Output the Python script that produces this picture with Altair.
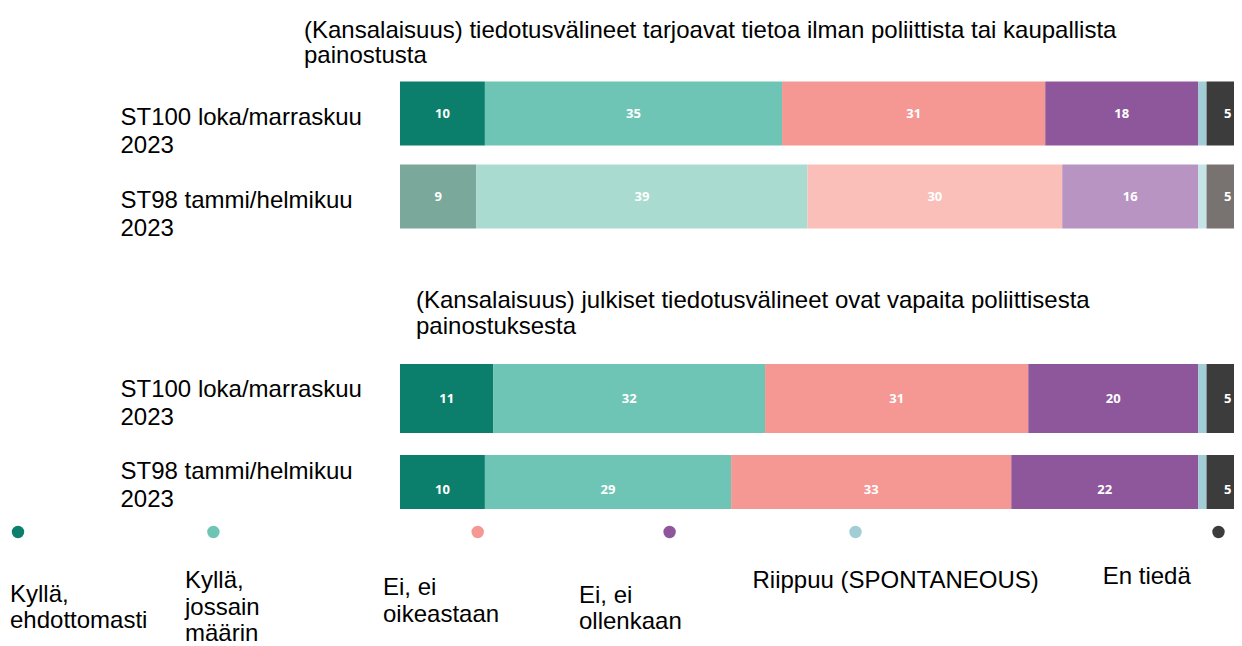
import altair as alt
import pandas as pd

# ---------------- data ----------------
categories = ["Kyllä, ehdottomasti", "Kyllä, jossain määrin", "Ei, ei oikeastaan",
              "Ei, ei ollenkaan", "Riippuu (SPONTANEOUS)", "En tiedä"]
legend_labels = ["Kyllä,\nehdottomasti", "Kyllä,\njossain\nmäärin", "Ei, ei\noikeastaan",
                 "Ei, ei\nollenkaan", "Riippuu (SPONTANEOUS)", "En tiedä"]
wave_labels = ["ST100 loka/marraskuu\n2023", "ST98 tammi/helmikuu\n2023"]

title_1 = ["(Kansalaisuus) tiedotusvälineet tarjoavat tietoa ilman poliittista tai kaupallista",
           "painostusta"]
title_2 = ["(Kansalaisuus) julkiset tiedotusvälineet ovat vapaita poliittisesta",
           "painostuksesta"]

q1_st100 = [10, 35, 31, 18, 1, 5]
q1_st98 = [9, 39, 30, 16, 1, 5]
q2_st100 = [11, 32, 31, 20, 1, 5]
q2_st98 = [10, 29, 33, 22, 1, 5]

# ---------------- styles ----------------
colors = ["#0b7f6b", "#6ec5b5", "#f59793", "#8f579b", "#a3cdd5", "#3c3c3c"]
faded_colors = ["#7aa89a", "#a9dbd0", "#f9bfb8", "#b794c2", "#c6e3e6", "#787270"]
FONT = "Liberation Sans, Arial, sans-serif"
FS = 24
W = 1226

keys = categories + [c + " (aiempi)" for c in categories]
color_scale = alt.Scale(domain=keys, range=colors + faded_colors)


def frame(rows):
    recs = []
    for label, vals, faded in rows:
        for i, (c, v) in enumerate(zip(categories, vals)):
            recs.append(dict(row=label, cat=c, order=i, value=v,
                             key=c + (" (aiempi)" if faded else ""),
                             show=c != "Riippuu (SPONTANEOUS)"))
    return pd.DataFrame(recs)


def panel(df, title, title_dx, title_lh, title_offset, height, y_range,
          pad_inner, pad_outer, label_offset):
    base = alt.Chart(df).transform_stack(
        stack="value", groupby=["row"], sort=[alt.SortField("order")], as_=["x0", "x1"]
    ).transform_calculate(mid="(datum.x0 + datum.x1) / 2")
    xscale = alt.Scale(domain=[0, 100], range=[392, 1241])
    yenc = alt.Y(
        "row:N", sort=wave_labels, title=None,
        scale=alt.Scale(range=y_range, paddingInner=pad_inner, paddingOuter=pad_outer),
        axis=alt.Axis(domain=False, ticks=False, grid=False, labelAlign="left",
                      labelBaseline="alphabetic", labelPadding=-112, labelFont=FONT,
                      labelFontSize=FS, labelColor="#000000", labelLineHeight=28,
                      labelExpr="split(datum.label, '\\n')", labelOffset=label_offset,
                      labelLimit=500),
    )
    bars = base.mark_bar(clip=True).encode(
        x=alt.X("x0:Q", scale=xscale, axis=None),
        x2="x1:Q",
        y=yenc,
        color=alt.Color("key:N", scale=color_scale, legend=None),
    )
    text = base.transform_filter("datum.show").mark_text(
        color="white", font="Open Sans", fontWeight="bold", fontSize=13, baseline="middle"
    ).encode(
        x=alt.X("mid:Q", scale=xscale, axis=None),
        y=yenc,
        text=alt.Text("value:Q", format="d"),
    )
    return alt.layer(bars, text).properties(
        width=W, height=height,
        title=alt.TitleParams(text=title, anchor="start", frame="group", dx=title_dx,
                              font=FONT, fontSize=FS, fontWeight="normal", color="#000000",
                              lineHeight=title_lh, baseline="alphabetic", offset=title_offset),
    )


p1 = panel(frame([(wave_labels[0], q1_st100, False), (wave_labels[1], q1_st98, True)]),
           title_1, 296, 25, -14.5, 280.5, [0, 166], 0.229, 0.1145, 11)
p2 = panel(frame([(wave_labels[0], q2_st100, False), (wave_labels[1], q2_st98, False)]),
           title_2, 408, 26, -5, 156, [0, 182], 0.242, 0.121,
           {"condition": {"test": "indexof(datum.value, 'ST98') == 0", "value": -11},
            "value": -1.5})

# ---------------- custom legend ----------------
leg = pd.DataFrame({"cat": categories, "label": legend_labels, "idx": list(range(6))})
idx_dom = list(range(6))
dot_x = [10, 205.4, 469.7, 661.6, 847.5, 1210.5]
text_x = [2, 177, 375, 571, 744.5, 1094.7]
text_y = [92.7, 79, 86, 93.7, 79.3, 74.7]

dots = alt.Chart(leg).mark_circle(size=154, opacity=1).encode(
    x=alt.X("idx:Q", scale=alt.Scale(domain=idx_dom, range=dot_x), axis=None),
    y=alt.value(23),
    color=alt.Color("cat:N", scale=alt.Scale(domain=categories, range=colors), legend=None),
)
labels = alt.Chart(leg).mark_text(
    align="left", baseline="alphabetic", lineBreak="\n", lineHeight=26.5,
    font=FONT, fontSize=FS, color="#000000"
).encode(
    x=alt.X("idx:Q", scale=alt.Scale(domain=idx_dom, range=text_x), axis=None),
    y=alt.Y("idx:Q", scale=alt.Scale(domain=idx_dom, range=text_y), axis=None),
    text="label:N",
)
legend_panel = alt.layer(dots, labels).resolve_scale(x="independent", y="independent").properties(
    width=W, height=122
)

chart = alt.vconcat(p1, p2, legend_panel, spacing=0, bounds="flush").resolve_scale(
    x="independent", y="independent", color="independent"
).properties(
    padding={"top": 10, "left": 0, "right": 0, "bottom": 0}
).configure_view(stroke=None)

chart.save("out.html", embed_options={"renderer": "svg", "actions": False})
